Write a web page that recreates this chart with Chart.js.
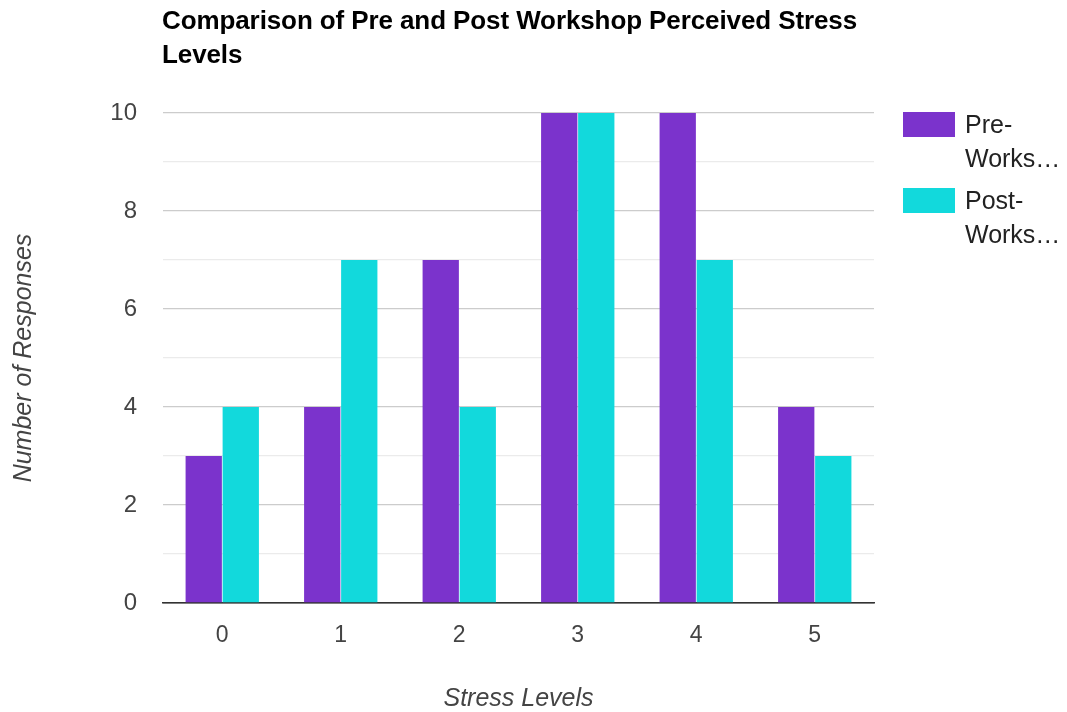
<!DOCTYPE html>
<html>
<head>
<meta charset="utf-8">
<script src="https://cdn.jsdelivr.net/npm/chart.js@4"></script>
<style>
  body { margin: 0; background: #fff; font-family: "Liberation Sans", Arial, sans-serif; }
  #wrap { position: relative; width: 1067px; height: 712px; }
  #titulo { position: absolute; left: 162px; top: 3px; font-size: 26px; font-weight: bold; color: #000; line-height: 34px; letter-spacing: -0.1px; }
  #leyenda { position: absolute; left: 903px; top: 107px; }
  .item { display: flex; align-items: flex-start; margin-bottom: 8px; }
  .caja { width: 52px; height: 25px; margin-top: 5px; margin-right: 10px; }
  .txt { font-size: 25px; color: #222; line-height: 34px; }
</style>
</head>
<body>
<div id="wrap">
  <canvas id="grafico" width="1067" height="712"></canvas>
  <div id="titulo">Comparison of Pre and Post Workshop Perceived Stress<br>Levels</div>
  <div id="leyenda"></div>
</div>
<script>
// Datos
const niveles = ['0', '1', '2', '3', '4', '5'];
const preTaller = [3, 4, 7, 10, 10, 4];
const postTaller = [4, 7, 4, 10, 7, 3];
const nombresSeries = ['Pre-Workshop', 'Post-Workshop'];
const coloresSeries = ['#7b33cc', '#12d9dc'];

const canvas = document.getElementById('grafico');
canvas.style.width = '1067px';
canvas.style.height = '712px';

const grafico = new Chart(canvas, {
  type: 'bar',
  data: {
    labels: niveles,
    datasets: [
      { label: nombresSeries[0], data: preTaller, backgroundColor: coloresSeries[0] },
      { label: nombresSeries[1], data: postTaller, backgroundColor: coloresSeries[1] }
    ]
  },
  options: {
    responsive: false,
    animation: false,
    layout: { padding: { top: 113, right: 193, bottom: 0, left: 0 } },
    plugins: {
      legend: { display: false },
      title: { display: false },
      tooltip: { enabled: false }
    },
    datasets: { bar: { categoryPercentage: 0.625, barPercentage: 0.98 } },
    scales: {
      x: {
        grid: { display: false },
        border: { display: true, color: '#333', width: 1.5 },
        ticks: { color: '#444', font: { family: 'Liberation Sans', size: 23 }, padding: 11 },
        title: {
          display: true, text: 'Stress Levels', color: '#444',
          font: { family: 'Liberation Sans', size: 25, style: 'italic', lineHeight: 1.05 },
          padding: { top: 0, bottom: 0 }
        },
        afterFit: (scale) => { scale.height = 109; }
      },
      y: {
        min: 0, max: 10,
        border: { display: false },
        grid: {
          color: (ctx) => ctx.tick.value === 0 ? '#333' : (ctx.tick.value % 2 ? '#ebebeb' : '#cccccc'),
          lineWidth: 1.3,
          drawTicks: false
        },
        ticks: {
          stepSize: 1, color: '#444', padding: 26,
          font: { family: 'Liberation Sans', size: 24 },
          callback: (v) => v % 2 ? '' : v
        },
        title: {
          display: true, text: 'Number of Responses', color: '#444',
          font: { family: 'Liberation Sans', size: 25, style: 'italic' },
          padding: { top: 9, bottom: 0 }
        },
        afterFit: (scale) => { scale.width = 163; }
      }
    }
  }
});

// Leyenda a la derecha, texto cortado como en el original
document.getElementById('leyenda').innerHTML = grafico.data.datasets.map((ds) => {
  const partes = ds.label.split('-');
  return `<div class="item"><div class="caja" style="background:${ds.backgroundColor}"></div>
    <div class="txt">${partes[0]}-<br>${partes[1].slice(0, 5)}…</div></div>`;
}).join('');
</script>
</body>
</html>
